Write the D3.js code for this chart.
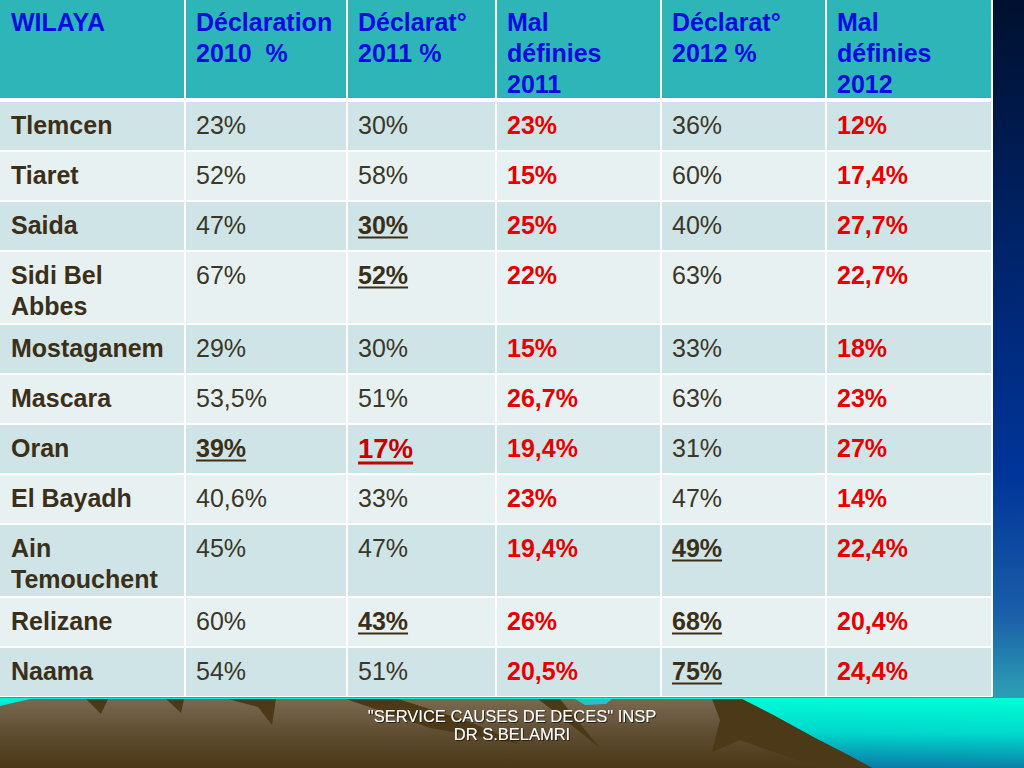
<!DOCTYPE html>
<html>
<head>
<meta charset="utf-8">
<script src="https://cdn.jsdelivr.net/npm/d3@7"></script>
<style>
  html, body { margin: 0; padding: 0; background: #001438; }
  svg { display: block; }
</style>
</head>
<body>
<div id="slide"></div>
<script>
// table content
const headers = ["WILAYA", "Déclaration\n2010  %", "Déclarat°\n2011 %", "Mal\ndéfinies\n2011", "Déclarat°\n2012 %", "Mal\ndéfinies\n2012"];
const wilayas = ["Tlemcen", "Tiaret", "Saida", "Sidi Bel Abbes", "Mostaganem", "Mascara", "Oran", "El Bayadh", "Ain Temouchent", "Relizane", "Naama"];
const decl2010 = ["23%", "52%", "47%", "67%", "29%", "53,5%", "39%", "40,6%", "45%", "60%", "54%"];
const decl2011 = ["30%", "58%", "30%", "52%", "30%", "51%", "17%", "33%", "47%", "43%", "51%"];
const mal2011 = ["23%", "15%", "25%", "22%", "15%", "26,7%", "19,4%", "23%", "19,4%", "26%", "20,5%"];
const decl2012 = ["36%", "60%", "40%", "63%", "33%", "63%", "31%", "47%", "49%", "68%", "75%"];
const mal2012 = ["12%", "17,4%", "27,7%", "22,7%", "18%", "23%", "27%", "14%", "22,4%", "20,4%", "24,4%"];
// cells that are underlined on the slide: [wilaya, column]
const flagged = [["Saida", 2], ["Sidi Bel Abbes", 2], ["Oran", 1], ["Oran", 2], ["Ain Temouchent", 4], ["Relizane", 2], ["Relizane", 4], ["Naama", 4]];
const alertCell = ["Oran", 2];
const footer = ["\"SERVICE CAUSES DE DECES\" INSP", "DR S.BELAMRI"];

const width = 1024;
const height = 768;
const font = "'Liberation Sans', Arial, Helvetica, sans-serif";

// column widths in px, and layout bits
const colW = [185, 162, 149, 165, 165, 166];
const pad = 11;
const lineStep = 31;
const headerH = 101;
const rowH = 50;
const extraLine = 23;
const bodySize = 25;

const columns = [wilayas, decl2010, decl2011, mal2011, decl2012, mal2012];
const redCols = [3, 5];

const svg = d3.select("#slide").append("svg")
    .attr("width", width)
    .attr("height", height);

const defs = svg.append("defs");

// slide background gradients
const sky = defs.append("linearGradient").attr("id", "sky")
    .attr("x1", 0).attr("y1", 0).attr("x2", 0).attr("y2", 1);
[[0, "#00102e"], [0.35, "#00256e"], [0.62, "#003599"], [0.8, "#1a5ea8"], [0.9, "#2c9cb4"], [1, "#2c9cb4"]]
    .forEach(([o, c]) => sky.append("stop").attr("offset", o).attr("stop-color", c));

const water = defs.append("linearGradient").attr("id", "water")
    .attr("x1", 1).attr("y1", 0).attr("x2", 0.8).attr("y2", 1);
[[0, "#00ffd6"], [0.5, "#00d8cc"], [1, "#0b78a6"]]
    .forEach(([o, c]) => water.append("stop").attr("offset", o).attr("stop-color", c));

const earth = defs.append("linearGradient").attr("id", "earth")
    .attr("x1", 0).attr("y1", 0).attr("x2", 0).attr("y2", 1);
[[0, "#7a6952"], [0.5, "#5f4d32"], [1, "#4a3716"]]
    .forEach(([o, c]) => earth.append("stop").attr("offset", o).attr("stop-color", c));

// soft shadow for the footer text
defs.append("filter").attr("id", "shadow")
    .attr("x", "-5%").attr("y", "-30%").attr("width", "110%").attr("height", "160%")
    .append("feDropShadow")
    .attr("dx", 1).attr("dy", 1).attr("stdDeviation", 0.4)
    .attr("flood-color", "#1c140a").attr("flood-opacity", 0.85);

svg.append("rect").attr("width", width).attr("height", height).attr("fill", "url(#sky)");
svg.append("rect").attr("y", 698).attr("width", width).attr("height", 70).attr("fill", "url(#water)");

const line = d3.line();
svg.append("path")
    .attr("d", line([[0, 706], [30, 699], [742, 699], [775, 716], [815, 738], [850, 756], [872, 768], [0, 768]]) + "Z")
    .attr("fill", "url(#earth)");

// darker rock teeth and ridges
const rocks = [
    [[86, 699], [108, 699], [101, 714]],
    [[166, 699], [184, 699], [181, 713]],
    [[228, 699], [276, 699], [272, 725], [258, 707]],
    [[346, 699], [398, 699], [470, 722], [520, 744], [430, 728]],
    [[538, 699], [560, 699], [585, 730], [600, 748], [575, 728]],
    [[712, 699], [742, 699], [775, 716], [815, 738], [850, 756], [872, 768], [820, 768], [740, 740], [712, 752], [720, 720]]
];
svg.append("g").selectAll("path").data(rocks).join("path")
    .attr("d", d => line(d) + "Z")
    .attr("fill", "#4b3917");
svg.append("path")
    .attr("d", line([[575, 699], [612, 699], [606, 704], [585, 705]]) + "Z")
    .attr("fill", "#2cc0c6");

// measure and wrap text
const measurer = svg.append("text").style("font-family", font).attr("visibility", "hidden");
const measure = (s, size, weight) => {
    measurer.style("font-size", size + "px").style("font-weight", weight).text(s);
    return measurer.node().getComputedTextLength();
};
const wrap = (s, maxW, size, weight) => {
    const words = s.split(" ");
    const lines = [];
    let cur = "";
    words.forEach(w => {
        const t = cur ? cur + " " + w : w;
        if (cur && measure(t, size, weight) > maxW) { lines.push(cur); cur = w; }
        else cur = t;
    });
    lines.push(cur);
    return lines;
};

const nameLines = wilayas.map(w => wrap(w, colW[0] - 2 * pad, bodySize, "bold"));
const rowHeights = nameLines.map(l => rowH + (l.length - 1) * extraLine);

// scales: column key -> left edge, row key -> top edge
const colKeys = d3.range(columns.length);
const x = d3.scaleOrdinal().domain(colKeys).range([0, ...d3.cumsum(colW)].slice(0, colKeys.length));
const y = d3.scaleOrdinal().domain(wilayas).range([headerH, ...d3.cumsum(rowHeights).map(v => v + headerH)].slice(0, wilayas.length));
const tableW = d3.sum(colW);
const tableH = headerH + d3.sum(rowHeights);

const table = svg.append("g");
table.append("rect").attr("width", tableW + 1).attr("height", tableH).attr("fill", "#ffffff");

// header
const head = table.append("g").selectAll("g").data(headers).join("g")
    .attr("transform", (d, i) => `translate(${x(i)},0)`);
head.append("rect")
    .attr("x", (d, i) => i === 0 ? 0 : 1).attr("y", 0)
    .attr("width", (d, i) => colW[i] - (i === 0 ? 1 : 2)).attr("height", headerH - 3)
    .attr("fill", "#2db5b8");
head.append("text")
    .style("font-family", font).style("font-size", "25px").style("font-weight", "bold")
    .attr("fill", "#0b0be0")
    .selectAll("tspan").data(d => d.split("\n")).join("tspan")
    .attr("x", pad).attr("y", (d, i) => 30.5 + i * lineStep)
    .attr("xml:space", "preserve")
    .text(d => d);

// body cells
const cells = [];
wilayas.forEach((w, r) => {
    colKeys.forEach(c => {
        const isFlag = flagged.some(f => f[0] === w && f[1] === c);
        const isAlert = alertCell[0] === w && alertCell[1] === c;
        cells.push({ row: w, r, c, lines: c === 0 ? nameLines[r] : [columns[c][r]], flag: isFlag, alert: isAlert });
    });
});

const cell = table.append("g").selectAll("g").data(cells).join("g")
    .attr("transform", d => `translate(${x(d.c)},${y(d.row)})`);
cell.append("rect")
    .attr("x", d => d.c === 0 ? 0 : 1).attr("y", 1)
    .attr("width", d => colW[d.c] - (d.c === 0 ? 1 : 2))
    .attr("height", d => rowHeights[d.r] - 2)
    .attr("fill", d => d.r % 2 === 0 ? "#cfe4e6" : "#e8f1f2");

const txt = cell.append("text")
    .style("font-family", font)
    .style("font-size", d => d.alert ? "27.5px" : bodySize + "px")
    .style("font-weight", d => (d.c === 0 || d.flag || redCols.includes(d.c)) ? "bold" : "normal")
    .attr("fill", d => d.alert ? "#c40000" : redCols.includes(d.c) ? "#e60000" : d.c === 0 || d.flag ? "#3b2f18" : "#3a3728");
txt.selectAll("tspan").data(d => d.lines).join("tspan")
    .attr("x", pad).attr("y", (d, i) => (d === "17%" ? 33.5 : 32.5) + i * lineStep)
    .text(d => d);

// underlines under flagged cells
cell.filter(d => d.flag).each(function (d) {
    const t = d3.select(this).select("text").node();
    const w = t.getComputedTextLength();
    d3.select(this).append("line")
        .attr("x1", pad).attr("x2", pad + w)
        .attr("y1", d.alert ? 39 : 36.5).attr("y2", d.alert ? 39 : 36.5)
        .attr("stroke", d.alert ? "#c40000" : "#3b2f18")
        .attr("stroke-width", d.alert ? 3 : 2);
});

measurer.remove();

// footer
svg.append("text")
    .style("font-family", font).style("font-size", "16.5px")
    .attr("text-anchor", "middle")
    .attr("fill", "#ffffff")
    .attr("filter", "url(#shadow)")
    .selectAll("tspan").data(footer).join("tspan")
    .attr("x", 512).attr("y", (d, i) => 722 + i * 17.5)
    .text(d => d);
</script>
</body>
</html>
